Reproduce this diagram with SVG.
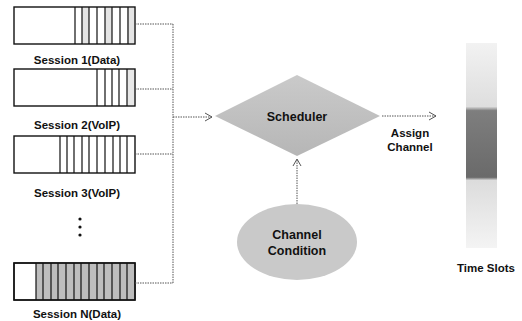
<svg xmlns="http://www.w3.org/2000/svg" width="522" height="321" viewBox="0 0 522 321">
<defs>
<style>
.box{fill:#fff;stroke:#111;stroke-width:1.4}
.slot{stroke:#111;stroke-width:1.2}
.lbl{font-family:"Liberation Sans",Arial,sans-serif;font-weight:bold;font-size:11.5px;fill:#111;text-anchor:middle}
.big{font-size:12.5px}
.con{fill:none;stroke:#555;stroke-width:1;stroke-dasharray:1.5 1}
.head{fill:none;stroke:#555;stroke-width:1}
</style>
<marker id="arr" markerWidth="10" markerHeight="10" refX="8" refY="5" orient="auto" markerUnits="userSpaceOnUse">
<path d="M1,1 L8,5 L1,9" class="head"/>
</marker>
<linearGradient id="ts" x1="0" y1="0" x2="0" y2="1">
<stop offset="0" stop-color="#f2f2f2"/>
<stop offset="0.31" stop-color="#dedede"/>
<stop offset="0.33" stop-color="#7e7e7e"/>
<stop offset="0.655" stop-color="#6a6a6a"/>
<stop offset="0.67" stop-color="#dcdcdc"/>
<stop offset="1" stop-color="#f4f4f4"/>
</linearGradient>
<linearGradient id="dg" x1="0" y1="0" x2="0" y2="1">
<stop offset="0" stop-color="#cacaca"/>
<stop offset="1" stop-color="#b6b6b6"/>
</linearGradient>
</defs>

<g id="session1">
<rect class="box" x="14" y="7" width="121" height="37"/>
<rect x="82" y="8" width="7" height="35" fill="#e4e4e4"/>
<rect x="105" y="8" width="7" height="35" fill="#e4e4e4"/>
<rect x="127" y="8" width="7" height="35" fill="#e4e4e4"/>
<path class="slot" d="M75,7V44M82,7V44M89,7V44M97,7V44M105,7V44M112,7V44M120,7V44M128,7V44"/>
<text class="lbl" x="77" y="64">Session 1(Data)</text>
</g>

<g id="session2">
<rect class="box" x="14" y="69" width="121" height="37"/>
<rect x="127" y="70" width="7" height="35" fill="#e8e8e8"/>
<path class="slot" d="M97,69V106M105,69V106M112,69V106M119,69V106M127,69V106"/>
<text class="lbl" x="77" y="129">Session 2(VoIP)</text>
</g>

<g id="session3">
<rect class="box" x="14" y="136" width="121" height="37"/>
<path class="slot" d="M60,136V173M67,136V173M74,136V173M82,136V173M89,136V173M97,136V173M105,136V173M113,136V173M120,136V173M127,136V173"/>
<text class="lbl" x="77" y="197">Session 3(VoIP)</text>
</g>

<g id="ellipsis">
<circle cx="80" cy="219" r="1.6" fill="#111"/>
<circle cx="80" cy="227" r="1.6" fill="#111"/>
<circle cx="80" cy="235" r="1.6" fill="#111"/>
</g>

<g id="sessionN">
<rect class="box" x="14" y="263" width="121" height="37"/>
<rect x="36" y="264" width="98" height="35" fill="#bdbdbd"/>
<path class="slot" d="M36,263V300M43,263V300M51,263V300M58,263V300M66,263V300M74,263V300M81,263V300M89,263V300M97,263V300M104,263V300M112,263V300M120,263V300M127,263V300"/>
<rect x="14" y="263" width="121" height="37" fill="none" stroke="#111" stroke-width="1.4"/>
<text class="lbl" x="77" y="318">Session N(Data)</text>
</g>

<g id="scheduler">
<polygon points="215,116 297,75 380,116 297,156" fill="url(#dg)"/>
<text class="lbl big" x="297" y="121">Scheduler</text>
</g>

<g id="channel-condition">
<ellipse cx="297" cy="242" rx="60" ry="38" fill="#c9c9c9"/>
<text class="lbl big" x="297" y="239">Channel</text>
<text class="lbl big" x="297" y="255">Condition</text>
</g>

<g id="time-slots">
<rect x="466" y="43" width="31" height="205" fill="url(#ts)"/>
<text class="lbl" x="486" y="272">Time Slots</text>
</g>

<g id="connectors">
<path class="con" d="M135,24H173M135,89H173M135,154H173M135,283H173M173,24V283"/>
<path class="con" d="M173,117H212" marker-end="url(#arr)"/>
<path class="con" d="M297,204V159" marker-end="url(#arr)"/>
<path class="con" d="M382,116H436" marker-end="url(#arr)"/>
<text class="lbl" x="410" y="137">Assign</text>
<text class="lbl" x="410" y="151">Channel</text>
</g>
</svg>
